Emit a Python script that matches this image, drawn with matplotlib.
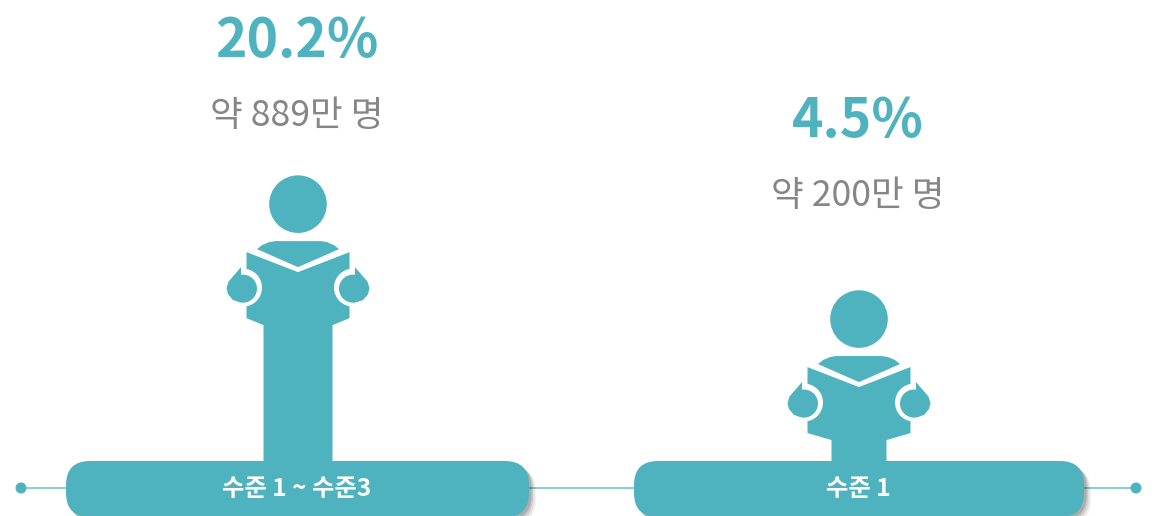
import matplotlib
matplotlib.use('Agg')
from matplotlib import pyplot as plt
from matplotlib.patches import Circle, Polygon, FancyBboxPatch

plt.rcParams['font.family'] = ['Noto Sans CJK KR', 'DejaVu Sans']

shares = [20.2, 4.5]
share_labels = ['20.2%', '4.5%']
people = ['약 889만 명', '약 200만 명']
levels = ['수준 1 ~ 수준3', '수준 1']

TEAL = '#4eb3bf'
LINE = '#86d0d3'
GREY = '#868686'

# layout, in pixels of the reference
centers = [298, 859]
stem_half = [34.5, 27.5]
pills = [(66, 529), (634, 1084)]
BASE = 461
PILL_BOTTOM = 517
RADIUS = 24


def headY(value):
    # 7.32 px per percent point above the smallest figure
    return BASE - (109 + 7.32 * value)


def percentY(value):
    return 122 - (value - 4.5) * 80 / 15.7


def drawHand(ax, cx, hy, side):
    # white ring cuts the hand out of the book
    ax.add_patch(Circle((cx + side * 55, hy + 83.5), 19, fc='white', ec='none', zorder=4))
    ax.add_patch(Circle((cx + side * 55, hy + 84.5), 14, fc=TEAL, ec='none', zorder=5))
    lobe = [(57, 63), (69.5, 77.5), (71.5, 84), (70, 90), (65, 96), (55, 98.5), (55, 84), (57, 71)]
    tip = [(cx + side * px, hy + py) for px, py in lobe]
    ax.add_patch(Polygon(tip, closed=True, fc=TEAL, ec='none', zorder=5))


def drawReader(ax, cx, hy, half):
    ax.add_patch(Circle((cx, hy), 28.8, fc=TEAL, ec='none', zorder=3))
    # shoulders
    shoulders = [(cx - 41, hy + 45), (cx - 36, hy + 41), (cx - 29, hy + 38), (cx - 23, hy + 37),
                 (cx + 23, hy + 37), (cx + 29, hy + 38), (cx + 36, hy + 41), (cx + 41, hy + 45),
                 (cx, hy + 63)]
    ax.add_patch(Polygon(shoulders, closed=True, fc=TEAL, ec='none', zorder=3))
    # open book and stem down to the bar
    book = [(cx - 51.5, hy + 48), (cx, hy + 68), (cx + 51.5, hy + 48), (cx + 51.5, hy + 114),
            (cx + half, hy + 121), (cx + half, BASE + 2), (cx - half, BASE + 2),
            (cx - half, hy + 121), (cx - 51.5, hy + 114)]
    ax.add_patch(Polygon(book, closed=True, fc=TEAL, ec='none', zorder=3))
    drawHand(ax, cx, hy, -1)
    drawHand(ax, cx, hy, 1)


def roundBox(x0, x1, y0, y1, **kw):
    return FancyBboxPatch((x0 + RADIUS, y0 + RADIUS), x1 - x0 - 2 * RADIUS, y1 - y0 - 2 * RADIUS,
                          boxstyle='round,pad=%d,rounding_size=%d' % (RADIUS, RADIUS),
                          ec='none', **kw)


def drawPill(ax, x0, x1, label):
    # soft shadow, stacked translucent copies
    for grow, alpha in [(7, 0.05), (5.5, 0.07), (4, 0.10), (2.5, 0.14)]:
        ax.add_patch(roundBox(x0 + grow, x1 + grow, BASE + grow, PILL_BOTTOM + grow,
                              fc='black', alpha=alpha, zorder=1))
    ax.add_patch(roundBox(x0, x1, BASE, PILL_BOTTOM, fc=TEAL, zorder=2))
    ax.text((x0 + x1) / 2 - 1, 489.5, label, color='white', fontsize=17.5, fontweight='bold',
            ha='center', va='center', zorder=6)


fig = plt.figure(figsize=(11.56, 5.16), dpi=100)
ax = fig.add_axes([0, 0, 1, 1])
ax.set_xlim(0, 1156)
ax.set_ylim(516, 0)
ax.axis('off')

ax.plot([21, 1136], [488, 488], color=LINE, lw=1.4, zorder=0)
ax.add_patch(Circle((21, 488), 5.5, fc=TEAL, ec='none', zorder=1))
ax.add_patch(Circle((1136, 488), 5.5, fc=TEAL, ec='none', zorder=1))

for i in range(len(shares)):
    hy = headY(shares[i])
    drawReader(ax, centers[i], hy, stem_half[i])
    drawPill(ax, pills[i][0], pills[i][1], levels[i])
    py = percentY(shares[i])
    ax.text(centers[i] - 1, py, share_labels[i], color=TEAL, fontsize=38.5, fontweight='bold',
            ha='center', va='center')
    ax.text(centers[i] - 1, py + 74, people[i], color=GREY, fontsize=25.6,
            ha='center', va='center')

plt.savefig('out.png', dpi=100)
